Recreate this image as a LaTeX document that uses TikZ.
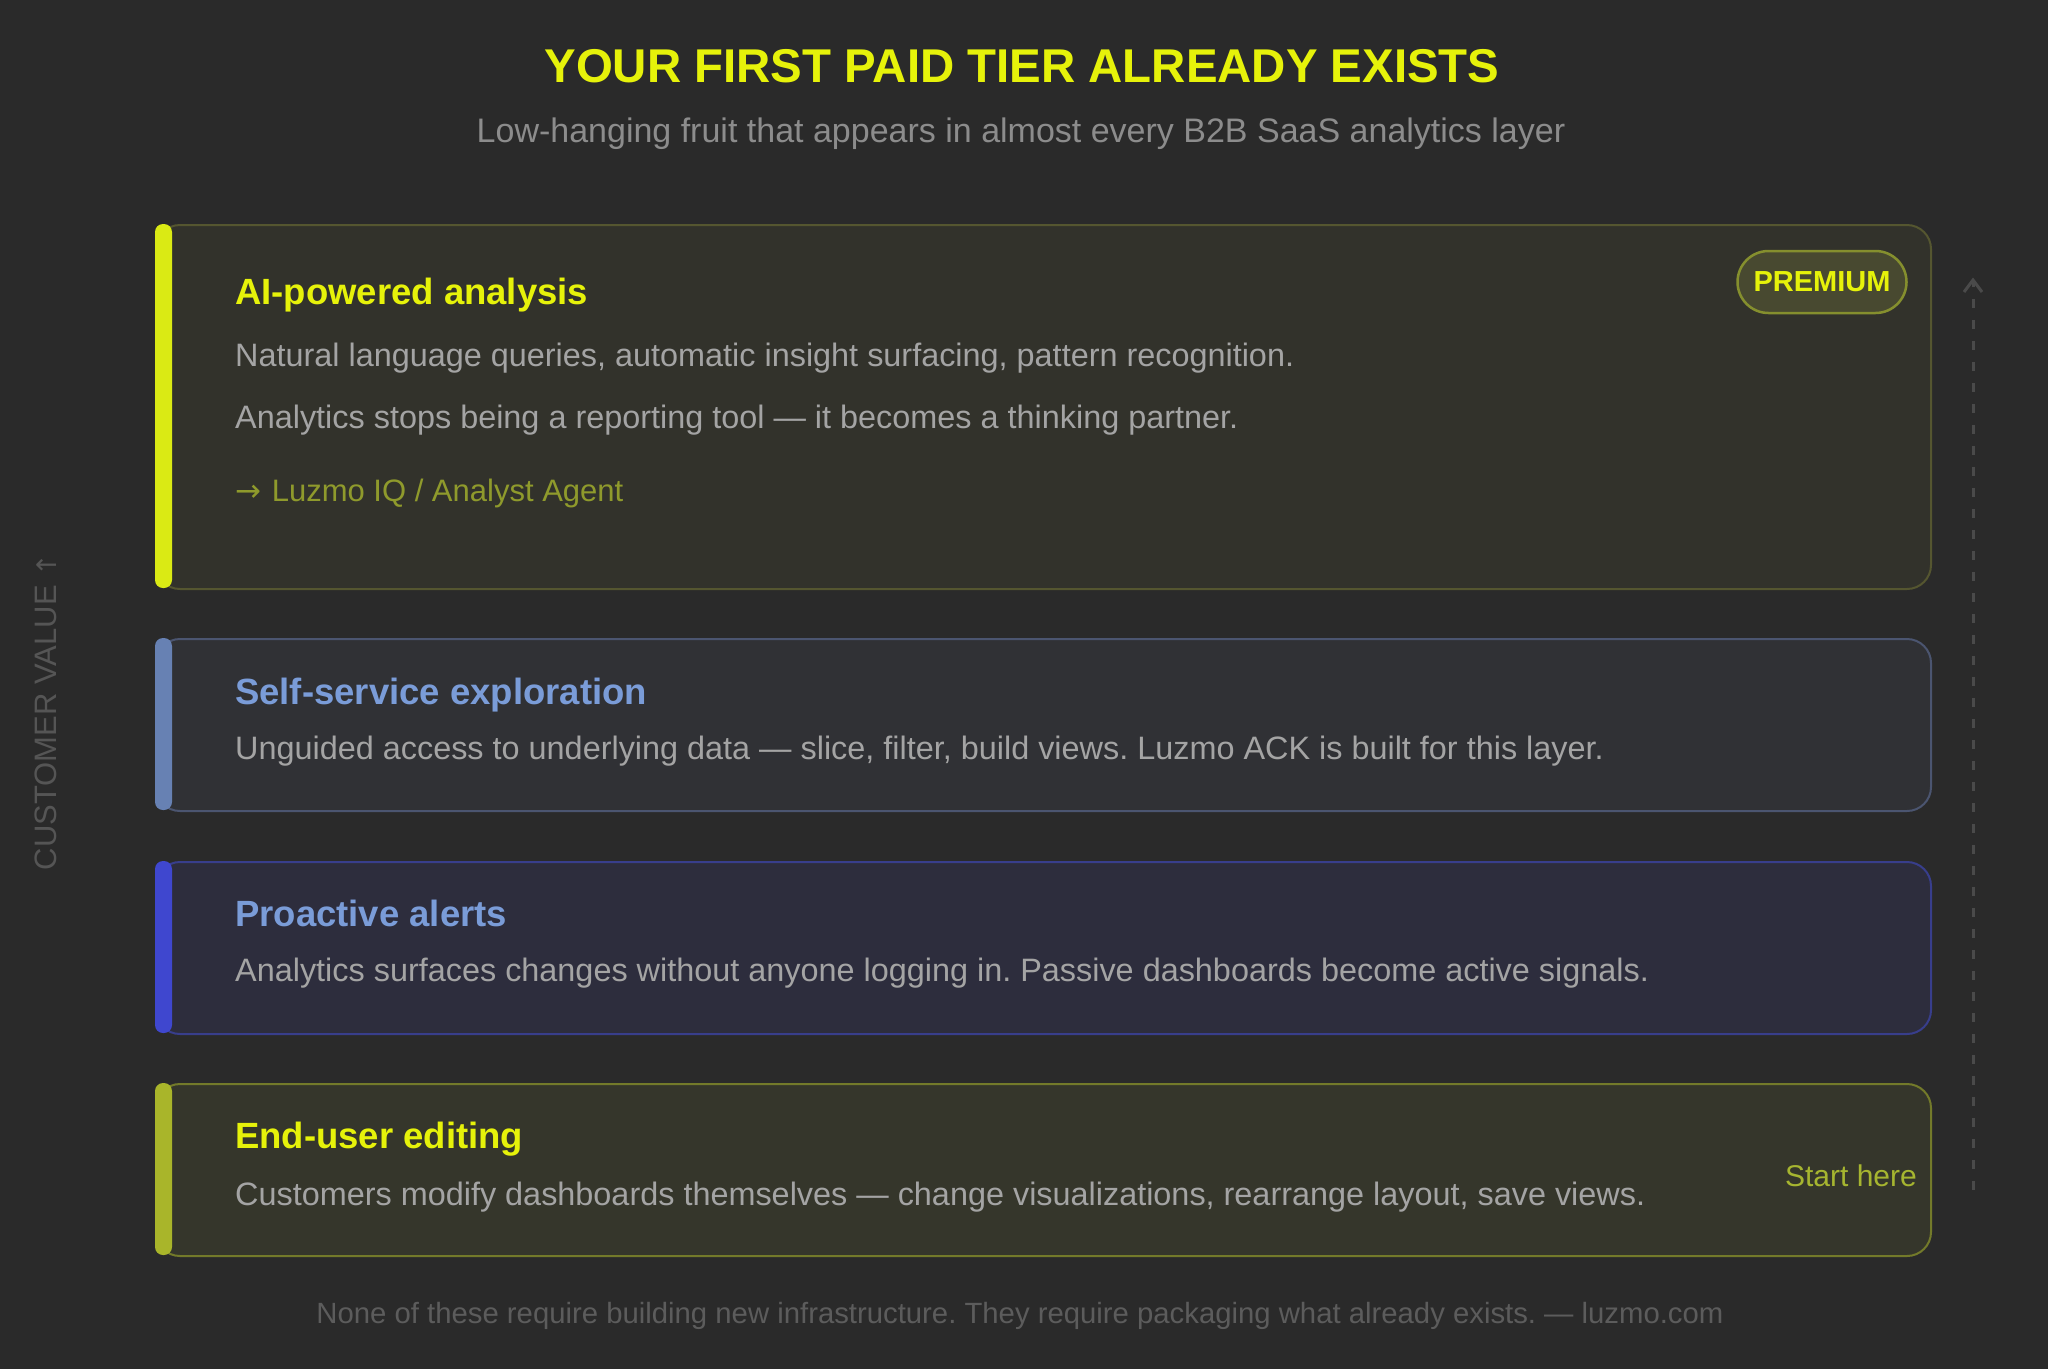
\documentclass[tikz,border=0pt]{standalone}
\usepackage{fontspec}
\setmainfont{Liberation Sans}
\newfontfamily\arrowfont{DejaVu Sans}
\usetikzlibrary{arrows.meta}
\frenchspacing
\definecolor{bg}{HTML}{2A2A2A}
\definecolor{brandyellow}{HTML}{E6F20A}
\definecolor{subgray}{HTML}{8C8C8C}
\definecolor{bodygray}{HTML}{A4A4A4}
\definecolor{footgray}{HTML}{5C5C5C}
\definecolor{axisgray}{HTML}{555555}
\definecolor{dashgray}{HTML}{4A4A4A}
\definecolor{aFill}{HTML}{32322B}
\definecolor{aBorder}{HTML}{555630}
\definecolor{aBar}{HTML}{DAEA14}
\definecolor{bFill}{HTML}{303135}
\definecolor{bBorder}{HTML}{4B5570}
\definecolor{bBar}{HTML}{6781B3}
\definecolor{cFill}{HTML}{2D2D3D}
\definecolor{cBorder}{HTML}{383E8C}
\definecolor{cBar}{HTML}{3F47CF}
\definecolor{dFill}{HTML}{35362B}
\definecolor{dBorder}{HTML}{737A2A}
\definecolor{dBar}{HTML}{A9B52A}
\definecolor{blueHead}{HTML}{7A9CD8}
\definecolor{linkOlive}{HTML}{8F9A2C}
\definecolor{startOlive}{HTML}{A6B530}
\definecolor{pillFill}{HTML}{484930}
\definecolor{pillBorder}{HTML}{858F2E}
\newcommand\pxsize[1]{\fontsize{#1}{#1}\selectfont}
\begin{document}
\begin{tikzpicture}[x=1pt,y=-1pt,
  cardbox/.style={draw, line width=2pt, rounded corners=24pt, minimum width=1775pt, anchor=north west, inner sep=0pt},
  accentbar/.style={rounded corners=8pt},
  headtext/.style={anchor=base west, inner sep=0pt, font=\pxsize{36.5}\bfseries},
  bodytext/.style={anchor=base west, inner sep=0pt, font=\pxsize{32.4}, text=bodygray},
]
\fill[bg] (0,0) rectangle (2048,1369);
\useasboundingbox (0,0) rectangle (2048,1369);

% title
\node[anchor=base, inner sep=0pt, font=\pxsize{47.4}\bfseries, text=brandyellow] (title) at (1022,82) {YOUR FIRST PAID TIER ALREADY EXISTS};
\node[anchor=base, inner sep=0pt, font=\pxsize{34}, text=subgray] (subtitle) at (1021,142) {Low-hanging fruit that appears in almost every B2B SaaS analytics layer};

% cards
\node[cardbox, fill=aFill, draw=aBorder, minimum height=364pt] (c1) at (155,224) {};
\fill[aBar, accentbar] (155,224) rectangle (172,588);
\node[cardbox, fill=bFill, draw=bBorder, minimum height=172pt] (c2) at (155,638) {};
\fill[bBar, accentbar] (155,638) rectangle (172,810);
\node[cardbox, fill=cFill, draw=cBorder, minimum height=172pt] (c3) at (155,861) {};
\fill[cBar, accentbar] (155,861) rectangle (172,1033);
\node[cardbox, fill=dFill, draw=dBorder, minimum height=172pt] (c4) at (155,1083) {};
\fill[dBar, accentbar] (155,1083) rectangle (172,1255);

% card 1
\node[headtext, text=brandyellow] (h1) at (235,304) {AI-powered analysis};
\node[bodytext] (b1a) at (235,366) {Natural language queries, automatic insight surfacing, pattern recognition.};
\node[bodytext] (b1b) at (235,428) {Analytics stops being a reporting tool — it becomes a thinking partner.};
\node[bodytext, text=linkOlive, font=\pxsize{31}] (b1c) at (235,501) {{\arrowfont\pxsize{31}→}\hspace{2pt} Luzmo IQ / Analyst Agent};
\node[draw=pillBorder, fill=pillFill, line width=2.5pt, rounded corners=31pt, minimum width=169pt, minimum height=62pt, inner sep=0pt, font=\pxsize{29}\bfseries, text=brandyellow] (pill) at (1822,282) {PREMIUM};

% card 2
\node[headtext, text=blueHead] (h2) at (235,704) {Self-service exploration};
\node[bodytext] (b2) at (235,759) {Unguided access to underlying data — slice, filter, build views. Luzmo ACK is built for this layer.};

% card 3
\node[headtext, text=blueHead] (h3) at (235,926) {Proactive alerts};
\node[bodytext] (b3) at (235,981) {Analytics surfaces changes without anyone logging in. Passive dashboards become active signals.};

% card 4
\node[headtext, text=brandyellow] (h4) at (235,1148) {End-user editing};
\node[bodytext] (b4) at (235,1205) {Customers modify dashboards themselves — change visualizations, rearrange layout, save views.};
\node[anchor=base east, inner sep=0pt, font=\pxsize{30}, text=startOlive] (start) at (1917,1186) {Start here};

% axis
\coordinate (axbot) at (1973,1190);
\coordinate (axtop) at (1973,280);
\draw[dashgray, line width=3pt, dash pattern=on 9pt off 12pt] (axbot) -- (axtop);
\draw[dashgray, line width=3pt] (1964,292) -- (axtop) -- (1982,292);
\node[rotate=90, inner sep=0pt, font=\pxsize{31}, text=axisgray] (axis) at (46,712) {CUSTOMER VALUE {\arrowfont\pxsize{27}↑}};

% footer
\node[anchor=base, inner sep=0pt, font=\pxsize{29.3}, text=footgray] (footer) at (1020,1323) {None of these require building new infrastructure. They require packaging what already exists. — luzmo.com};
\end{tikzpicture}
\end{document}
